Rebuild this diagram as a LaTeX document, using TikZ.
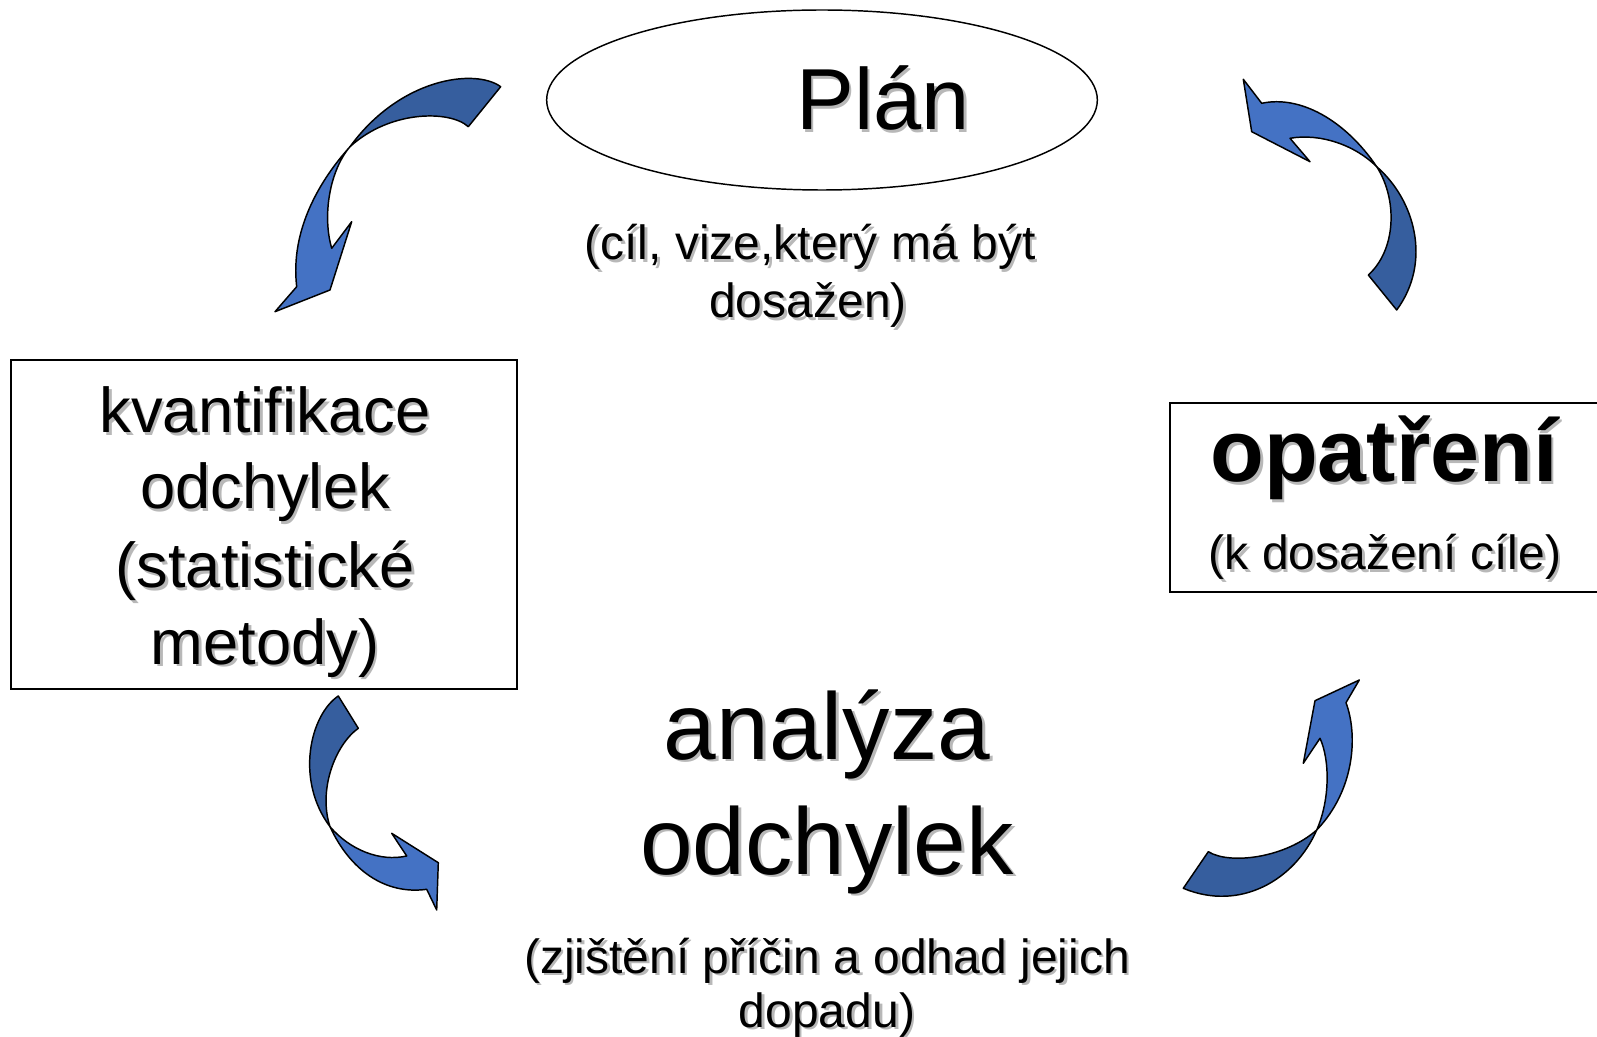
\documentclass[tikz,border=0pt]{standalone}
\usepackage{fontspec}
\setmainfont{Liberation Sans}
\usetikzlibrary{shapes.geometric}

\definecolor{arrowfront}{RGB}{68,114,196}
\definecolor{arrowback}{RGB}{54,94,158}

\tikzset{
  frame/.style={draw=black, line width=1.1pt},
  backband/.style={draw=black, line width=1.1pt, line join=round, fill=arrowback},
  frontband/.style={draw=black, line width=1.1pt, line join=round, fill=arrowfront},
  txt/.style={inner sep=0pt, anchor=base, align=center, text=black},
  shd/.style={inner sep=0pt, anchor=base, align=center, text=black!28, xshift=2pt, yshift=-2pt},
}

% text with a soft drop shadow: name, position, font, text
\newcommand{\ShadedLabel}[4]{%
  \node[shd, font=#3] at (#2) {#4};
  \node[txt, font=#3] (#1) at (#2) {#4};}

\begin{document}
\begin{tikzpicture}[x=0.75pt, y=-0.75pt]
\useasboundingbox (0,0) rectangle (1597,1037);
\clip (0,0) rectangle (1597,1037);

% frames
\node[frame, ellipse, minimum width=413pt, minimum height=135pt, inner sep=0pt] (plan) at (822,100) {};
\draw[frame] (11,360) rectangle (517,689);
\draw[frame] (1170,403) rectangle (1620,592);

% labels
\ShadedLabel{plantxt}{883,130}{\fontsize{65}{78}\selectfont}{Plán}
\ShadedLabel{plansub1}{810,260}{\fontsize{36}{43}\selectfont}{(cíl, vize,který má být}
\ShadedLabel{plansub2}{808,318}{\fontsize{36}{43}\selectfont}{dosažen)}

\ShadedLabel{kv1}{265,433}{\fontsize{47.5}{57}\selectfont}{kvantifikace}
\ShadedLabel{kv2}{265,509}{\fontsize{47.5}{57}\selectfont}{odchylek}
\ShadedLabel{kv3}{265,588}{\fontsize{47.5}{57}\selectfont}{(statistické}
\ShadedLabel{kv4}{265,664}{\fontsize{47.5}{57}\selectfont}{metody)}

\ShadedLabel{an1}{827,759}{\fontsize{71}{86}\selectfont}{analýza}
\ShadedLabel{an2}{827,874}{\fontsize{71}{86}\selectfont}{odchylek}
\ShadedLabel{ansub1}{827,973}{\fontsize{36}{43}\selectfont}{(zjištění příčin a odhad jejich}
\ShadedLabel{ansub2}{827,1027}{\fontsize{36}{43}\selectfont}{dopadu)}

\ShadedLabel{op1}{1384,482}{\fontsize{66}{79}\selectfont\bfseries}{opatření}
\ShadedLabel{op2}{1385,570}{\fontsize{36}{43}\selectfont}{(k dosažení cíle)}

% curved arrow: plan -> quantification
\path[backband] (500.7,86.7) .. controls (475,68) and (400,78) .. (350,146.7)
  .. controls (390,110) and (450,110) .. (468.3,126.7) -- cycle;
\path[frontband] (350,146.7) .. controls (320,180) and (290,230) .. (296.7,286.7)
  -- (275,311.7) -- (330,290) -- (351.7,221.7) -- (331.7,248.3)
  .. controls (322,215) and (330,170) .. (350,146.7) -- cycle;

% curved arrow: measures -> plan
\path[backband] (1376.7,166.7) .. controls (1415,200) and (1432,262) .. (1396.7,310)
  -- (1368.3,275) .. controls (1396,250) and (1398,200) .. (1376.7,166.7) -- cycle;
\path[frontband] (1376.7,166.7) .. controls (1345,120) and (1300,95) .. (1261.7,103.3)
  -- (1243.3,79.3) -- (1251.7,131.7) -- (1310,161.7) -- (1290,138.3)
  .. controls (1320,133) and (1355,145) .. (1376.7,166.7) -- cycle;

% curved arrow: quantification -> analysis
\path[backband] (338.3,696) .. controls (310,715) and (295,780) .. (330,826.7)
  .. controls (318,790) and (335,745) .. (358.3,728.3) -- cycle;
\path[frontband] (330,826.7) .. controls (350,870) and (385,895) .. (426.7,889.3)
  -- (436.7,910) -- (438.3,862.7) -- (391.7,833.3) -- (406.7,856)
  .. controls (380,862) and (350,850) .. (330,826.7) -- cycle;

% curved arrow: analysis -> measures
\path[backband] (1316.7,830) .. controls (1295,880) and (1240,912) .. (1183.3,888.3)
  -- (1208.3,851.7) .. controls (1230,865) and (1285,858) .. (1316.7,830) -- cycle;
\path[frontband] (1316.7,830) .. controls (1355,790) and (1358,735) .. (1346,702.7)
  -- (1359.3,680) -- (1315,700.7) -- (1303.3,763.3) -- (1320,738.3)
  .. controls (1330,760) and (1330,800) .. (1316.7,830) -- cycle;
\end{tikzpicture}
\end{document}
